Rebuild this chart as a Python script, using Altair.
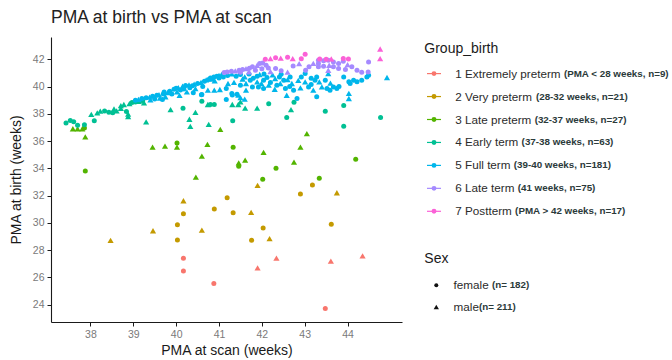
import altair as alt
import pandas as pd

FONT = "Liberation Sans"

# PMA at scan (weeks), PMA at birth (weeks), sex (F/M) for each birth group
extremely_preterm = [
    (40.88, 25.55, "F"), (40.17, 27.40, "F"), (40.17, 26.47, "F"), (41.90, 26.70, "M"),
    (42.34, 27.42, "M"), (43.48, 23.72, "F"), (43.61, 27.20, "M"), (44.35, 27.58, "M"),
]
very_preterm = [
    (38.47, 28.72, "M"), (39.46, 29.42, "M"), (40.17, 31.62, "M"), (40.17, 30.67, "F"),
    (40.03, 29.86, "F"), (40.03, 28.74, "F"), (40.60, 29.47, "M"), (40.89, 31.01, "F"),
    (41.19, 31.84, "F"), (41.33, 30.74, "F"), (41.90, 32.75, "M"), (41.75, 30.77, "M"),
    (42.03, 29.62, "F"), (41.76, 28.72, "F"), (42.18, 28.84, "M"), (42.90, 32.11, "F"),
    (43.18, 32.77, "F"), (43.75, 32.21, "M"), (43.62, 29.89, "F"),
]
late_preterm = [
    (37.59, 36.90, "M"), (37.70, 36.90, "M"), (37.81, 36.90, "M"), (37.86, 36.95, "F"),
    (37.88, 36.30, "M"), (37.88, 33.80, "F"), (39.45, 35.55, "M"), (39.74, 35.63, "M"),
    (40.02, 35.85, "F"), (40.02, 35.55, "M"), (40.46, 33.35, "M"), (40.60, 34.90, "M"),
    (40.73, 35.75, "M"), (41.03, 36.85, "M"), (41.33, 35.55, "F"), (41.46, 34.40, "M"),
    (41.46, 34.15, "F"), (41.61, 34.60, "M"), (42.04, 35.17, "M"), (42.02, 33.20, "F"),
    (42.33, 34.00, "F"), (42.75, 34.45, "M"), (42.90, 35.55, "M"), (43.05, 36.55, "M"),
    (43.34, 33.28, "F"), (44.19, 34.67, "F"),
]
early_term = [
    (37.43, 37.33, "F"), (37.53, 37.50, "F"), (37.61, 37.41, "F"), (37.70, 37.15, "F"),
    (37.86, 37.20, "F"), (38.02, 37.95, "M"), (38.09, 37.48, "F"), (38.16, 38.07, "M"),
    (38.23, 38.19, "M"), (38.33, 38.21, "F"), (38.43, 38.12, "F"), (38.52, 38.07, "F"),
    (38.61, 38.21, "M"), (38.71, 38.39, "M"), (38.71, 38.60, "M"), (38.78, 38.68, "M"),
    (38.84, 38.17, "F"), (38.88, 37.97, "M"), (38.88, 37.80, "M"), (38.91, 38.75, "M"),
    (38.97, 38.83, "F"), (39.05, 38.87, "F"), (39.13, 38.92, "M"), (39.22, 38.95, "F"),
    (39.30, 37.40, "M"), (39.87, 38.30, "M"), (40.16, 38.40, "F"), (40.31, 37.60, "M"),
    (40.33, 37.08, "M"), (40.45, 38.10, "M"), (40.60, 38.92, "F"), (40.74, 38.68, "M"),
    (40.76, 37.22, "M"), (40.80, 38.68, "F"), (40.89, 38.68, "F"), (41.31, 38.68, "M"),
    (41.32, 37.48, "F"), (41.45, 38.68, "M"), (41.50, 38.87, "M"), (41.61, 38.41, "M"),
    (41.89, 38.41, "M"), (42.16, 38.73, "F"), (42.58, 37.73, "F"), (42.68, 38.30, "M"),
    (42.75, 38.85, "F"), (43.48, 38.19, "F"), (43.91, 38.60, "F"), (43.91, 37.09, "F"),
    (44.77, 37.73, "F"), (39.25, 38.80, "M"), (38.55, 38.35, "M"),
]
full_term = [
    (39.05, 39.00, "F"), (39.12, 39.05, "M"), (39.20, 39.12, "F"), (39.30, 39.18, "F"),
    (39.38, 39.22, "M"), (39.45, 39.28, "F"), (39.50, 39.08, "F"), (39.55, 39.35, "F"),
    (39.60, 39.40, "M"), (39.62, 39.15, "M"), (39.70, 39.45, "F"), (39.72, 39.60, "F"),
    (39.75, 39.25, "M"), (39.80, 39.55, "M"), (39.85, 39.65, "F"), (39.90, 39.45, "F"),
    (39.95, 39.80, "F"), (40.00, 39.88, "F"), (40.02, 39.60, "M"), (40.05, 39.92, "M"),
    (40.10, 39.75, "F"), (40.15, 40.02, "M"), (40.18, 39.82, "F"), (40.22, 40.08, "F"),
    (40.25, 39.60, "M"), (40.30, 40.12, "M"), (40.32, 39.90, "F"), (40.38, 40.05, "F"),
    (40.42, 40.18, "M"), (40.45, 39.85, "M"), (40.50, 40.22, "F"), (40.59, 39.39, "F"),
    (40.58, 40.30, "M"), (40.62, 40.00, "F"), (40.66, 40.38, "F"), (40.70, 40.48, "M"),
    (40.74, 39.73, "M"), (40.76, 40.52, "F"), (40.80, 40.62, "F"), (40.85, 40.55, "M"),
    (40.88, 40.70, "F"), (40.90, 40.42, "M"), (40.95, 40.75, "F"), (41.00, 40.82, "M"),
    (41.00, 40.62, "F"), (41.02, 39.78, "M"), (41.06, 40.88, "M"), (41.10, 40.70, "F"),
    (40.60, 39.41, "F"), (40.89, 39.73, "M"), (41.17, 39.85, "F"), (41.31, 39.37, "F"),
    (41.17, 39.05, "F"), (41.45, 39.37, "M"), (41.60, 39.07, "M"),
    (41.21, 40.22, "M"), (41.30, 39.49, "F"), (41.42, 39.44, "F"), (41.50, 39.19, "M"),
    (41.63, 40.22, "M"), (41.63, 39.73, "M"), (41.73, 40.46, "F"), (41.78, 39.97, "F"),
    (41.89, 40.75, "F"), (41.89, 40.34, "M"), (41.92, 39.97, "F"), (41.99, 40.22, "M"),
    (42.04, 40.46, "F"), (42.04, 39.85, "F"), (42.12, 40.66, "F"), (42.16, 40.10, "M"),
    (42.31, 40.58, "M"), (42.35, 40.10, "F"), (42.41, 40.70, "F"), (42.43, 40.22, "M"),
    (42.51, 40.46, "F"), (42.55, 39.85, "F"), (42.58, 39.36, "M"), (42.66, 40.70, "F"),
    (42.70, 40.22, "M"), (42.74, 39.73, "F"), (42.82, 39.12, "F"), (42.92, 40.70, "F"),
    (43.01, 40.95, "F"), (43.01, 40.34, "M"), (43.09, 39.97, "F"), (43.20, 39.73, "M"),
    (43.24, 40.46, "F"), (43.28, 39.24, "F"), (43.28, 40.70, "F"), (43.34, 40.34, "M"),
    (43.40, 39.97, "M"), (43.48, 40.46, "F"), (43.52, 39.85, "F"), (43.59, 39.73, "F"),
    (43.67, 39.97, "F"), (43.75, 39.85, "F"), (43.91, 40.70, "F"), (44.03, 40.34, "F"),
    (44.03, 39.49, "M"), (44.03, 39.12, "M"), (44.06, 40.22, "F"), (44.14, 40.46, "F"),
    (44.22, 40.34, "F"), (44.33, 40.46, "F"), (44.45, 40.70, "F"), (44.49, 40.83, "F"),
    (44.92, 40.66, "M"), (43.55, 40.95, "M"),
    (41.20, 40.80, "F"), (41.30, 40.92, "M"), (41.40, 40.75, "F"), (41.50, 40.88, "F"),
    (41.60, 40.70, "M"), (41.70, 40.92, "F"), (41.80, 40.60, "F"), (41.95, 40.88, "M"),
    (42.05, 40.92, "F"), (42.25, 40.85, "M"), (42.45, 40.90, "F"), (42.60, 40.50, "M"),
    (42.85, 40.45, "M"), (43.15, 40.60, "F"), (41.35, 40.30, "M"), (41.50, 40.10, "F"),
    (41.55, 40.55, "M"), (42.20, 40.30, "F"), (42.30, 39.80, "M"), (42.65, 40.00, "F"),
    (42.90, 39.90, "M"), (43.15, 40.15, "F"), (43.60, 40.25, "M"), (43.80, 40.00, "F"),
    (39.40, 39.02, "M"), (39.68, 39.05, "F"), (40.08, 39.35, "M"), (40.40, 39.55, "F"),
]
late_term = [
    (41.12, 41.02, "F"), (41.19, 41.07, "F"), (41.29, 41.12, "F"), (41.38, 41.14, "M"),
    (41.47, 41.19, "F"), (41.55, 41.24, "F"), (41.63, 41.31, "M"), (41.71, 41.34, "F"),
    (41.78, 41.44, "F"), (41.89, 41.56, "M"), (41.95, 41.68, "F"), (42.02, 41.73, "F"),
    (42.10, 41.55, "F"), (41.50, 41.04, "F"), (41.70, 41.08, "M"), (41.85, 41.20, "F"),
    (42.00, 41.30, "F"), (42.15, 41.35, "F"), (42.32, 41.32, "F"), (42.45, 41.15, "F"),
    (42.60, 41.05, "M"), (42.87, 41.68, "M"), (42.73, 41.50, "F"), (43.02, 41.20, "F"),
    (42.20, 41.10, "M"), (43.32, 41.93, "F"), (43.32, 41.68, "F"), (43.32, 41.44, "F"),
    (43.44, 41.88, "F"), (43.44, 41.49, "F"), (43.55, 41.93, "F"), (43.57, 41.56, "M"),
    (43.55, 41.19, "M"), (43.67, 41.80, "F"), (43.67, 41.44, "F"), (43.79, 41.68, "F"),
    (43.79, 41.32, "F"), (43.90, 41.85, "F"), (44.10, 41.44, "F"), (44.22, 41.19, "F"),
    (44.33, 41.05, "F"), (44.49, 41.80, "F"), (44.48, 41.07, "F"), (43.10, 41.45, "F"),
    (43.20, 41.70, "M"), (44.00, 41.60, "M"), (43.95, 41.25, "F"),
]
postterm = [
    (42.08, 42.00, "F"), (42.20, 42.05, "M"), (42.32, 42.10, "F"), (42.44, 42.08, "M"),
    (42.60, 42.15, "F"), (42.72, 42.05, "M"), (43.01, 42.37, "F"), (43.35, 42.02, "F"),
    (43.50, 42.00, "F"), (43.62, 42.03, "M"), (43.90, 42.05, "F"), (44.02, 42.02, "F"),
    (44.76, 42.75, "M"), (44.76, 42.05, "M"), (42.92, 42.03, "F"),
]

GROUP_LABELS = [
    "1 Extremely preterm (PMA < 28 weeks, n=9)",
    "2 Very preterm (28-32 weeks, n=21)",
    "3 Late preterm (32-37 weeks, n=27)",
    "4 Early term (37-38 weeks, n=63)",
    "5 Full term (39-40 weeks, n=181)",
    "6 Late term (41 weeks, n=75)",
    "7 Postterm (PMA > 42 weeks, n=17)",
]
GROUP_COLORS = ["#F8766D", "#C49A00", "#53B400", "#00C094", "#00B6EB", "#A58AFF", "#FB61D7"]
SEX_LABELS = ["female (n= 182)", "male(n= 211)"]
SEX_SHAPES = ["circle", "triangle-up"]
SEX_SIZES = [25, 38]
X_TICKS = [38, 39, 40, 41, 42, 43, 44]
Y_TICKS = [24, 26, 28, 30, 32, 34, 36, 38, 40, 42]

groups = [extremely_preterm, very_preterm, late_preterm, early_term,
          full_term, late_term, postterm]
rows = []
for label, pts in zip(GROUP_LABELS, groups):
    for scan, birth, sex in pts:
        rows.append({"scan": scan, "birth": birth, "group": label,
                     "sex": SEX_LABELS[0] if sex == "F" else SEX_LABELS[1]})
df = pd.DataFrame(rows)

PLOT_W, PLOT_H = 351, 285
LEG_W = 265

color_scale = alt.Scale(domain=GROUP_LABELS, range=GROUP_COLORS)
shape_scale = alt.Scale(domain=SEX_LABELS, range=SEX_SHAPES)
size_scale = alt.Scale(domain=SEX_LABELS, range=SEX_SIZES)

scatter = alt.Chart(df).mark_point(filled=True, opacity=1).encode(
    x=alt.X("scan:Q", title="PMA at scan (weeks)",
            scale=alt.Scale(domain=[37.08, 45.27], nice=False, zero=False),
            axis=alt.Axis(values=X_TICKS, format="d", titlePadding=4)),
    y=alt.Y("birth:Q", title="PMA at birth (weeks)",
            scale=alt.Scale(domain=[22.73, 43.63], nice=False, zero=False),
            axis=alt.Axis(values=Y_TICKS, format="d", titlePadding=9)),
    color=alt.Color("group:N", scale=color_scale, legend=None),
    shape=alt.Shape("sex:N", scale=shape_scale, legend=None),
    size=alt.Size("sex:N", scale=size_scale, legend=None),
).properties(width=PLOT_W, height=PLOT_H)

# ---- hand-built legend: key label in regular type, note in small bold ----
ARIAL = {" ": 278, "E": 667, "x": 500, "t": 278, "r": 333, "e": 556, "m": 833,
         "l": 222, "y": 500, "p": 556, "V": 667, "L": 556, "a": 556, "F": 611,
         "u": 556, "P": 667, "o": 556, "s": 500, "f": 278}


def text_width(s, size):
    return sum(ARIAL.get(c, 556) for c in s) * size / 1000.0


LABEL_SIZE = 11.7
NOTE_SIZE = 9.8
STEP = 22.95


def split(label):
    i = label.index("(")
    return label[:i], label[i:]


leg_rows = []
for i, label in enumerate(GROUP_LABELS):
    main, note = split(label)
    leg_rows.append({"kind": "group", "key": label, "main": main, "note": note,
                     "y": 36.6 + STEP * i, "lx": 53.3,
                     "nx": 53.3 + text_width(main, LABEL_SIZE)})
for i, label in enumerate(SEX_LABELS):
    main, note = split(label)
    leg_rows.append({"kind": "sex", "key": label, "main": main, "note": note,
                     "y": 248.3 + 21.7 * i, "lx": 51.6,
                     "nx": 51.6 + text_width(main, LABEL_SIZE)})
leg = pd.DataFrame(leg_rows)
titles = pd.DataFrame({"text": ["Group_birth", "Sex"], "x": [22.3, 22.3], "y": [11.6, 222.3]})

lx_scale = alt.Scale(domain=[0, LEG_W], range=[0, LEG_W])
ly_scale = alt.Scale(domain=[0, PLOT_H], range=[0, PLOT_H])

base = alt.Chart(leg)
grp = base.transform_filter(alt.datum.kind == "group")
sx = base.transform_filter(alt.datum.kind == "sex")

leg_titles = alt.Chart(titles).mark_text(
    align="left", baseline="middle", fontSize=14, font=FONT, color="#1a1a1a"
).encode(x=alt.X("x:Q", scale=lx_scale, axis=None),
         y=alt.Y("y:Q", scale=ly_scale, axis=None), text="text:N")

key_lines = grp.mark_rule(strokeWidth=1.2).encode(
    x=alt.value(25), x2=alt.value(39),
    y=alt.Y("y:Q", scale=ly_scale, axis=None),
    color=alt.Color("key:N", scale=color_scale, legend=None))
key_dots = grp.mark_point(filled=True, opacity=1, shape="circle", size=24).encode(
    x=alt.value(32), y=alt.Y("y:Q", scale=ly_scale, axis=None),
    color=alt.Color("key:N", scale=color_scale, legend=None))
sex_keys = sx.mark_point(filled=True, opacity=1, color="#111").encode(
    x=alt.value(34.3), y=alt.Y("y:Q", scale=ly_scale, axis=None),
    shape=alt.Shape("key:N", scale=shape_scale, legend=None),
    size=alt.Size("key:N", scale=alt.Scale(domain=SEX_LABELS, range=[16, 28]), legend=None))
mains = base.mark_text(align="left", baseline="middle", fontSize=LABEL_SIZE,
                       font=FONT, color="#2b2b2b").encode(
    x=alt.X("lx:Q", scale=lx_scale, axis=None),
    y=alt.Y("y:Q", scale=ly_scale, axis=None), text="main:N")
notes = base.mark_text(align="left", baseline="middle", fontSize=NOTE_SIZE,
                       fontWeight="bold", font=FONT, color="#2b3a3a").encode(
    x=alt.X("nx:Q", scale=lx_scale, axis=None),
    y=alt.Y("y:Q", scale=ly_scale, axis=None), text="note:N")

legend = alt.layer(leg_titles, key_lines, key_dots, sex_keys, mains, notes).properties(
    width=LEG_W, height=PLOT_H)

chart = alt.hconcat(scatter, legend, spacing=0, bounds="flush").resolve_scale(
    color="independent", shape="independent", size="independent"
).properties(
    title=alt.TitleParams("PMA at birth vs PMA at scan", anchor="start", frame="group",
                          fontSize=17.5, fontWeight="normal", font=FONT, color="#222",
                          baseline="alphabetic", offset=-3),
    padding={"left": 9, "top": 8, "right": 0, "bottom": 2},
).configure_view(stroke=None).configure_axis(
    grid=False, domainColor="#1a1a1a", domainWidth=1.1, tickColor="#1a1a1a",
    tickWidth=1, tickSize=4, labelPadding=3, labelColor="#7a7a7a", labelFontSize=10.5,
    labelFont=FONT, titleFont=FONT, titleFontSize=14, titleFontWeight="normal",
    titleColor="#1a1a1a",
)

chart.save("out.html", embed_options={"renderer": "svg", "actions": False})
